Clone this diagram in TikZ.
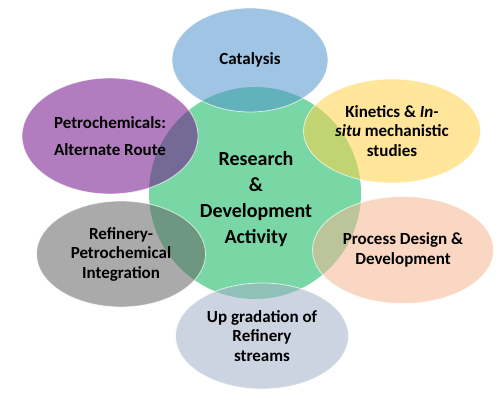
\documentclass[tikz,border=0pt]{standalone}
\usepackage{fontspec}
\setmainfont{Carlito}
\usetikzlibrary{shapes.geometric}
\definecolor{rdgreen}{RGB}{120,215,165}
\definecolor{catblue}{RGB}{82,147,205}
\definecolor{petropurple}{RGB}{115,18,136}
\definecolor{kinyellow}{RGB}{255,209,73}
\definecolor{refgray}{RGB}{100,100,100}
\definecolor{procpeach}{RGB}{245,182,145}
\definecolor{upblue}{RGB}{164,176,200}
\begin{document}
\begin{tikzpicture}[x=1pt, y=1pt, node distance=130pt,
    main/.style = {ellipse, draw=white, draw opacity=0.7, line width=0.8pt, fill opacity=0.55, text opacity=1, inner sep=0pt, align=center, font=\fontsize{17}{19.5}\selectfont\bfseries},
    hub/.style = {circle, fill=rdgreen, minimum size=212pt, inner sep=0pt}]
    \useasboundingbox (0,0) rectangle (500,400);
    \node[hub] (rd) at (255,207) {};
    \node[font=\fontsize{20}{26}\selectfont\bfseries, align=center] (rdlabel) at (256,201) {Research\\ \&\\ Development\\ Activity};
    \node[main, fill=catblue, minimum width=156pt, minimum height=104pt, node distance=133pt] (cat) [above of = rd, xshift=-5pt] {Catalysis};
    \node[main, fill=petropurple, minimum width=176pt, minimum height=116pt, node distance=145pt] (petro) [left of = rd, yshift=57pt] {Petrochemicals:\\[7pt] Alternate Route};
    \node[main, fill=kinyellow, minimum width=177pt, minimum height=104pt, node distance=137pt] (kin) [right of = rd, yshift=62pt] {Kinetics \& \textit{In-}\\ \textit{situ} mechanistic\\ studies};
    \node[main, fill=refgray, minimum width=169pt, minimum height=106pt, node distance=134pt] (ref) [left of = rd, yshift=-61pt] {Refinery-\\ Petrochemical\\ Integration};
    \node[main, fill=procpeach, minimum width=181pt, minimum height=107pt, node distance=148pt] (proc) [right of = rd, yshift=-57pt] {Process Design \&\\ Development};
    \node[main, fill=upblue, minimum width=173pt, minimum height=106pt, node distance=143pt] (up) [below of = rd, xshift=7pt] {Up gradation of\\ Refinery\\ streams};
\end{tikzpicture}
\end{document}
